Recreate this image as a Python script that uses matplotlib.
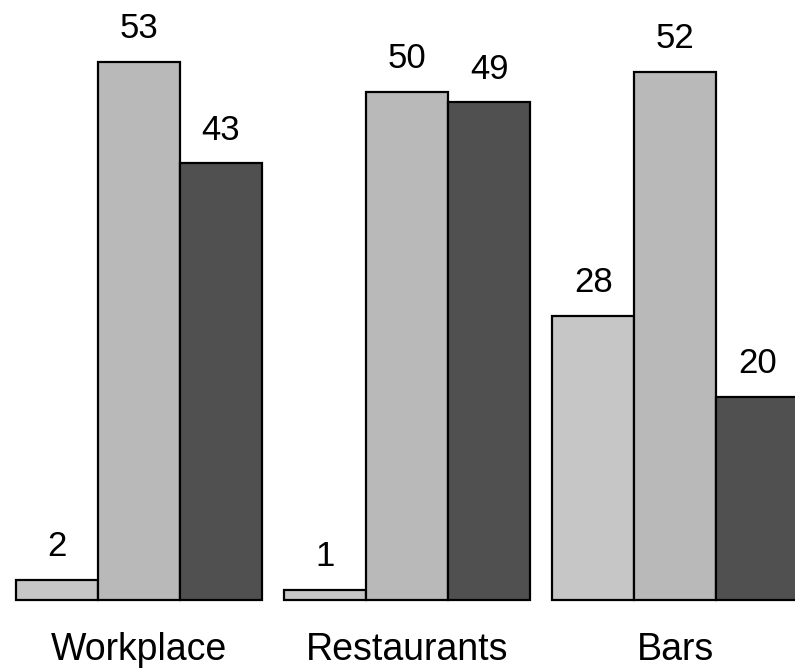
import numpy as np
import matplotlib
matplotlib.use("Agg")
import matplotlib.pyplot as plt

plt.rcParams['font.family'] = ['Liberation Sans', 'DejaVu Sans']

categories = ["Workplace", "Restaurants", "Bars"]
series_a = [2, 1, 28]
series_b = [53, 50, 52]
series_c = [43, 49, 20]

colors = ["#c6c6c6", "#b9b9b9", "#505050"]
group_step = 3.27
bar_w = 1.0

fig = plt.figure(figsize=(7.95, 6.7), dpi=100)
ax = fig.add_axes([0, 0, 1, 1])

centers = np.arange(len(categories)) * group_step
for k, (vals, col) in enumerate(zip([series_a, series_b, series_c], colors)):
    xs = centers + (k - 1) * bar_w
    ax.bar(xs, vals, width=bar_w, color=col, edgecolor="black",
           linewidth=1.6, zorder=2)
    for x, v in zip(xs, vals):
        ax.annotate(str(v), (x, v), xytext=(0, 17), textcoords="offset points",
                    ha="center", va="baseline", fontsize=25)

for c, name in zip(centers, categories):
    ax.text(c, -5.9, name, ha="center", va="baseline", fontsize=27)

ax.set_xlim(-1.695, 8.0)
ax.set_ylim(-6.89, 59.06)
ax.axis("off")

fig.savefig("out.png", dpi=100)
